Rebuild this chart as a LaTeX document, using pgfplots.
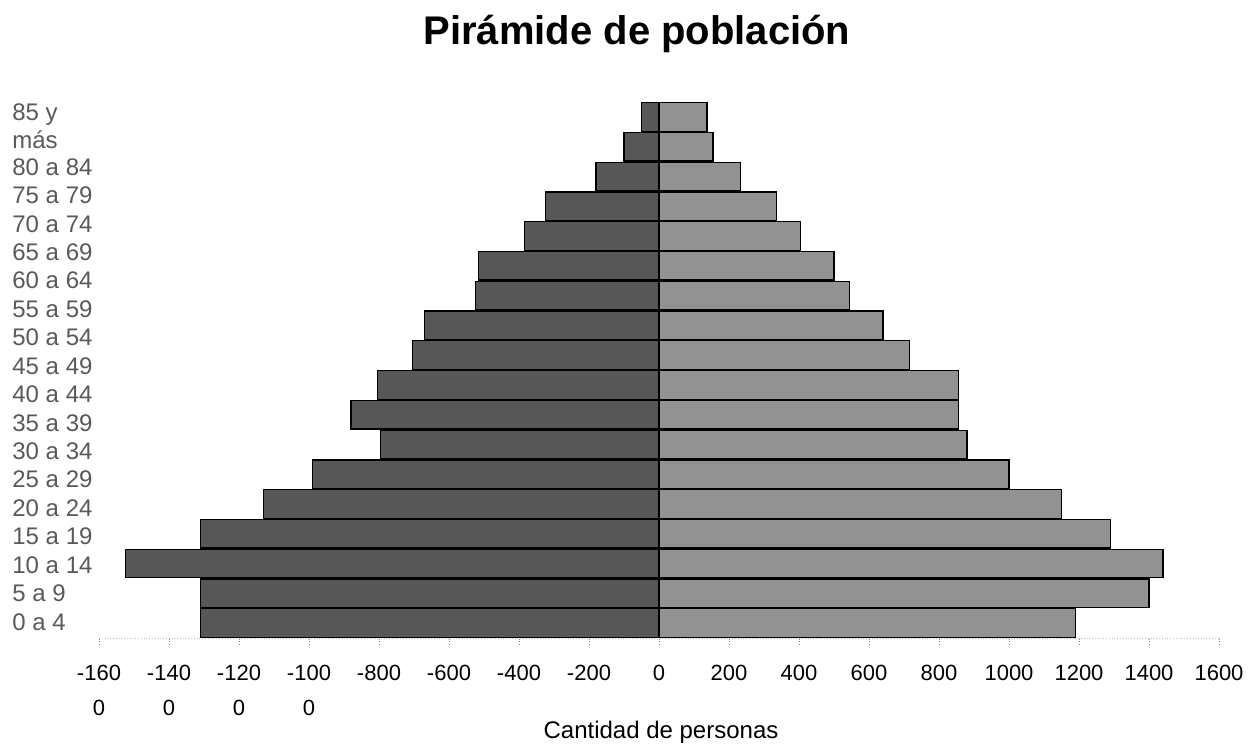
\documentclass[border=0pt]{standalone}
\usepackage{fontspec}
\setmainfont{Liberation Sans}
\usepackage{pgfplots}
\pgfplotsset{compat=1.18}

\definecolor{barizq}{HTML}{575757}
\definecolor{barder}{HTML}{929292}

\begin{document}
\begin{tikzpicture}
  \begin{axis}[
      name=ax,
      at={(49.5bp,53.5bp)}, anchor=south west,
      width=560bp, height=268bp, scale only axis,
      xmin=-1600, xmax=1600,
      ymin=-0.5, ymax=17.5,
      axis x line*=bottom,
      axis y line*=left,
      x axis line style={gray!50, densely dotted},
      y axis line style={draw=none},
      xtick={-1600,-1400,-1200,-1000,-800,-600,-400,-200,0,200,400,600,800,1000,1200,1400,1600},
      xticklabels={{-160\\[4.5bp]0},{-140\\[4.5bp]0},{-120\\[4.5bp]0},{-100\\[4.5bp]0},
        -800,-600,-400,-200,0,200,400,600,800,1000,1200,1400,1600},
      xticklabel style={align=center, font=\fontsize{11bp}{13bp}\selectfont, yshift=-7bp},
      tick align=outside,
      major tick length=3bp,
      xtick style={gray, densely dotted},
      % the category names sit a little closer together than the bars
      ytick={0.04,0.995,1.95,2.905,3.86,4.815,5.77,6.725,7.68,8.635,9.59,
        10.545,11.5,12.455,13.41,14.365,15.32,16.69},
      yticklabels={0 a 4,5 a 9,10 a 14,15 a 19,20 a 24,25 a 29,30 a 34,35 a 39,
        40 a 44,45 a 49,50 a 54,55 a 59,60 a 64,65 a 69,70 a 74,75 a 79,80 a 84,
        {85 y\\más}},
      yticklabel style={anchor=west, xshift=-40.5bp, inner sep=0pt, align=left,
        font=\fontsize{12bp}{14bp}\selectfont, text=black!65},
      ytick style={draw=none},
      xbar, bar shift=0pt, bar width=0.96,
    ]
    % lado izquierdo
    \addplot[fill=barizq, draw=black, line width=0.6bp] coordinates {
      (-1310,0) (-1310,1) (-1525,2) (-1310,3) (-1130,4) (-990,5) (-795,6) (-880,7)
      (-805,8) (-705,9) (-670,10) (-525,11) (-515,12) (-385,13) (-325,14)
      (-180,15) (-100,16) (-50,17)
    };
    % lado derecho
    \addplot[fill=barder, draw=black, line width=0.6bp] coordinates {
      (1190,0) (1400,1) (1440,2) (1290,3) (1150,4) (1000,5) (880,6) (855,7)
      (855,8) (715,9) (640,10) (545,11) (500,12) (405,13) (335,14)
      (232,15) (154,16) (137,17)
    };
  \end{axis}
  \node[anchor=base, font=\fontsize{20bp}{24bp}\selectfont\bfseries] at (318.5bp,350bp) {Pirámide de población};
  \node[anchor=base, font=\fontsize{12bp}{14bp}\selectfont] at (330.5bp,3.5bp) {Cantidad de personas};
  \pgfresetboundingbox
  \useasboundingbox (0,0) rectangle (630bp,372.5bp);
\end{tikzpicture}
\end{document}
